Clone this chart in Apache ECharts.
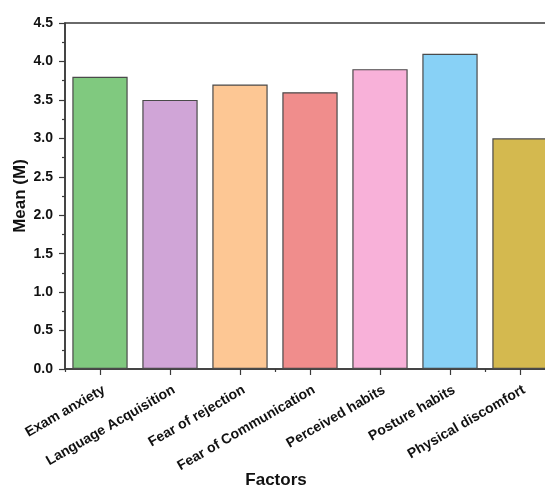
<!DOCTYPE html>
<html>
<head>
<meta charset="utf-8">
<script src="https://cdn.jsdelivr.net/npm/echarts@6/dist/echarts.min.js"></script>
<style>
html,body{margin:0;padding:0;background:#fff;}
#chart{width:545px;height:488px;}
</style>
</head>
<body>
<div id="chart"></div>
<script>
const categories = ["Exam anxiety", "Language Acquisition", "Fear of rejection", "Fear of Communication", "Perceived habits", "Posture habits", "Physical discomfort"];
const meanValues = [3.8, 3.5, 3.7, 3.6, 3.9, 4.1, 3.0];
const yTicks = [0, 0.5, 1.0, 1.5, 2.0, 2.5, 3.0, 3.5, 4.0, 4.5];
const barColors = ["#80C97F", "#D0A5D7", "#FDC794", "#F08D8C", "#F8B1D9", "#88D1F6", "#D4B94F"];

const chart = echarts.init(document.getElementById('chart'));
const font = 'Liberation Sans, Arial, sans-serif';
const lineColor = '#3a3a3a';

chart.setOption({
  animation: false,
  backgroundColor: '#ffffff',
  grid: {
    left: 65, top: 23, width: 490, height: 346,
    containLabel: false, outerBoundsMode: 'none',
    show: true, borderColor: lineColor, borderWidth: 1.5, backgroundColor: 'transparent'
  },
  xAxis: [{
    type: 'category',
    data: categories,
    name: 'Factors',
    nameLocation: 'middle',
    nameGap: 103,
    nameMoveOverlap: false,
    nameTextStyle: { fontFamily: font, fontWeight: 'bold', fontSize: 17, color: '#111', padding: [0, 68, 0, 0] },
    axisLine: { lineStyle: { color: lineColor, width: 1.5 } },
    axisTick: { show: true, alignWithLabel: true, length: 6, lineStyle: { color: lineColor, width: 1.2 } },
    axisLabel: { rotate: 30, interval: 0, margin: 13, lineHeight: 16, formatter: s => '\n' + s, fontFamily: font, fontWeight: 'bold', fontSize: 14, color: '#111' },
    splitLine: { show: false }
  }, {
    type: 'category',
    data: categories,
    position: 'bottom',
    axisLine: { show: false },
    axisTick: { show: true, alignWithLabel: false, length: 3, lineStyle: { color: lineColor, width: 1.2 } },
    axisLabel: { show: false },
    splitLine: { show: false }
  }],
  yAxis: {
    type: 'value',
    min: yTicks[0],
    max: yTicks[yTicks.length - 1],
    interval: 0.5,
    name: 'Mean (M)',
    nameLocation: 'middle',
    nameGap: 36,
    nameMoveOverlap: false,
    nameTextStyle: { fontFamily: font, fontWeight: 'bold', fontSize: 17, color: '#111' },
    axisLine: { show: true, lineStyle: { color: lineColor, width: 1.5 } },
    axisTick: { show: true, length: 6, lineStyle: { color: lineColor, width: 1.2 } },
    minorTick: { show: true, splitNumber: 2, length: 3, lineStyle: { color: lineColor, width: 1.2 } },
    axisLabel: { margin: 12, fontFamily: font, fontWeight: 'bold', fontSize: 14, color: '#111', formatter: v => v.toFixed(1) },
    splitLine: { show: false }
  },
  series: [{
    type: 'bar',
    xAxisIndex: 0,
    barCategoryGap: '21%',
    data: meanValues.map((v, i) => ({ value: v, itemStyle: { color: barColors[i] } })),
    itemStyle: { borderColor: '#4a4a4a', borderWidth: 1.2 }
  }]
});
</script>
</body>
</html>
